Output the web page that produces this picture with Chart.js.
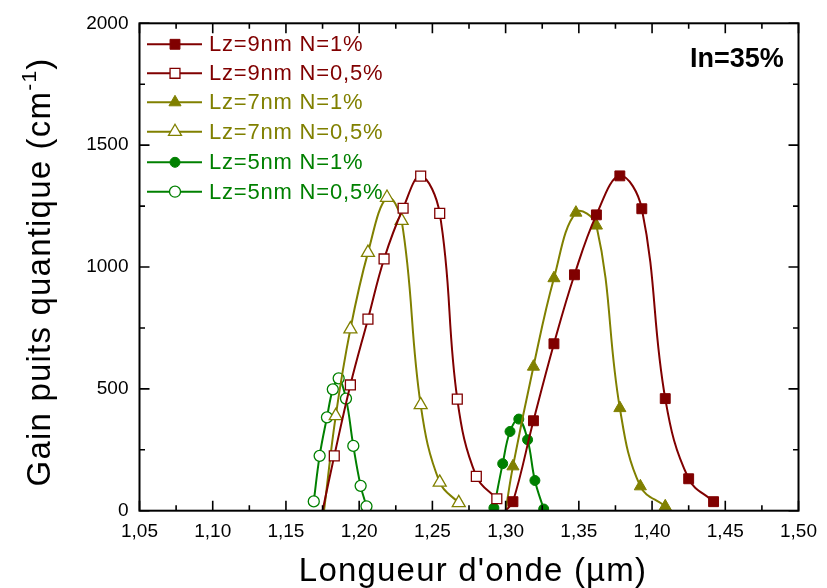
<!DOCTYPE html>
<html lang="fr">
<head>
<meta charset="UTF-8">
<title>Gain puits quantique</title>
<style>
  html, body { margin: 0; padding: 0; background: #fff; }
</style>
</head>
<body>
<canvas id="gainChart" width="827" height="588"></canvas>
<script src="https://cdn.jsdelivr.net/npm/chart.js@4.4.1/dist/chart.umd.min.js"></script>
<script>
// wavelength (um) / gain (cm-1); y=0 entries are where the curve leaves the axis
const lz9n1X = [1.300, 1.305, 1.319, 1.333, 1.347, 1.362, 1.378, 1.393, 1.409, 1.425, 1.442];
const lz9n1Y = [0, 37, 369, 685, 968, 1214, 1374, 1239, 460, 131, 37];

const lz9n05X = [1.175, 1.183, 1.194, 1.206, 1.217, 1.230, 1.242, 1.255, 1.267, 1.280, 1.294];
const lz9n05Y = [0, 225, 516, 786, 1033, 1241, 1373, 1220, 458, 141, 49];

const lz7n1X = [1.300, 1.305, 1.319, 1.333, 1.348, 1.362, 1.378, 1.392, 1.409];
const lz7n1Y = [0, 182, 591, 954, 1223, 1170, 421, 100, 18];

const lz7n05X = [1.176, 1.184, 1.194, 1.206, 1.219, 1.229, 1.242, 1.255, 1.268];
const lz7n05Y = [0, 389, 745, 1059, 1285, 1190, 434, 116, 32];

const lz5n1X = [1.292, 1.298, 1.303, 1.309, 1.315, 1.320, 1.326];
const lz5n1Y = [11, 193, 325, 376, 291, 124, 7];

const lz5n05X = [1.169, 1.173, 1.178, 1.182, 1.186, 1.191, 1.196, 1.201, 1.205];
const lz5n05Y = [38, 225, 383, 498, 543, 460, 266, 102, 18];

const seriesLabels = ['Lz=9nm N=1%', 'Lz=9nm N=0,5%', 'Lz=7nm N=1%', 'Lz=7nm N=0,5%', 'Lz=5nm N=1%', 'Lz=5nm N=0,5%'];

const RED = '#800000', OLIVE = '#808000', GREEN = '#008000';
const FONT = '"Liberation Sans", Arial, sans-serif';

function makeSet(label, xs, ys, color, style, filled, radius) {
  return {
    label: label,
    data: xs.map((v, i) => ({ x: v, y: ys[i] })),
    borderColor: color,
    backgroundColor: filled ? color : '#fff',
    pointBackgroundColor: filled ? color : '#fff',
    pointBorderColor: color,
    pointBorderWidth: filled ? 1 : 1.3,
    pointStyle: style,
    pointRadius: (c) => (c.raw && c.raw.y === 0) ? 0 : radius,
    borderWidth: 2,
    tension: 0.4,
    fill: false
  };
}

const sets = [
  makeSet(seriesLabels[0], lz9n1X, lz9n1Y, RED, 'rect', true, 7),
  makeSet(seriesLabels[1], lz9n05X, lz9n05Y, RED, 'rect', false, 7),
  makeSet(seriesLabels[2], lz7n1X, lz7n1Y, OLIVE, 'triangle', true, 7),
  makeSet(seriesLabels[3], lz7n05X, lz7n05Y, OLIVE, 'triangle', false, 7.5),
  makeSet(seriesLabels[4], lz5n1X, lz5n1Y, GREEN, 'circle', true, 5),
  makeSet(seriesLabels[5], lz5n05X, lz5n05Y, GREEN, 'circle', false, 5.5)
];

// frame with inward ticks on all four sides, titles, legend and the In=35% note
const decorations = {
  id: 'decorations',
  afterDraw(chart) {
    const { ctx, chartArea: a, scales: { x, y } } = chart;
    ctx.save();
    ctx.strokeStyle = '#000';
    ctx.lineWidth = 2;
    ctx.strokeRect(a.left, a.top, a.right - a.left, a.bottom - a.top);

    ctx.lineWidth = 1.6;
    ctx.beginPath();
    for (let i = 0; i <= 18; i++) {
      const px = x.getPixelForValue(1.05 + i * 0.025);
      const len = i % 2 === 0 ? 10 : 5.5;
      ctx.moveTo(px, a.bottom); ctx.lineTo(px, a.bottom - len);
      ctx.moveTo(px, a.top); ctx.lineTo(px, a.top + len);
    }
    for (let i = 0; i <= 8; i++) {
      const py = y.getPixelForValue(i * 250);
      const len = i % 2 === 0 ? 10 : 5.5;
      ctx.moveTo(a.left, py); ctx.lineTo(a.left + len, py);
      ctx.moveTo(a.right, py); ctx.lineTo(a.right - len, py);
    }
    ctx.stroke();

    // axis titles
    ctx.fillStyle = '#000';
    ctx.textBaseline = 'alphabetic';
    ctx.letterSpacing = '1.2px';
    ctx.font = '33px ' + FONT;
    ctx.textAlign = 'center';
    ctx.fillText("Longueur d'onde (\u00b5m)", 473, 581);

    const main = 'Gain puits quantique (cm';
    ctx.font = '33px ' + FONT;
    const w1 = ctx.measureText(main).width;
    ctx.font = '21px ' + FONT;
    const w2 = ctx.measureText('-1').width;
    ctx.font = '33px ' + FONT;
    const w3 = ctx.measureText(')').width;
    const total = w1 + w2 + w3;
    ctx.translate(50, 272);
    ctx.rotate(-Math.PI / 2);
    ctx.textAlign = 'left';
    let cx = -total / 2;
    ctx.fillText(main, cx, 0);
    cx += w1;
    ctx.font = '21px ' + FONT;
    ctx.fillText('-1', cx, -14);
    cx += w2;
    ctx.font = '33px ' + FONT;
    ctx.fillText(')', cx, 0);
    ctx.setTransform(1, 0, 0, 1, 0, 0);

    // note
    ctx.letterSpacing = '0px';
    ctx.font = 'bold 27px ' + FONT;
    ctx.textAlign = 'left';
    ctx.fillText('In=35%', 690, 66.5);

    // legend
    const rowY = [44.3, 73.3, 102.3, 131.7, 162.3, 191.7];
    ctx.letterSpacing = '0.8px';
    ctx.font = '22px ' + FONT;
    ctx.textBaseline = 'middle';
    sets.forEach((ds, i) => {
      const yy = rowY[i];
      ctx.strokeStyle = ds.borderColor;
      ctx.lineWidth = 2;
      ctx.beginPath();
      ctx.moveTo(147, yy); ctx.lineTo(202, yy);
      ctx.stroke();
      ctx.fillStyle = ds.pointBackgroundColor;
      ctx.strokeStyle = ds.pointBorderColor;
      ctx.lineWidth = ds.pointBorderWidth;
      const r = ds.pointRadius({ raw: { y: 1 } });
      Chart.helpers.drawPoint(ctx, { pointStyle: ds.pointStyle, radius: r, rotation: 0, borderWidth: ds.pointBorderWidth }, 175, yy);
      ctx.fillStyle = ds.borderColor;
      ctx.fillText(ds.label, 209, yy + 1);
    });
    ctx.restore();
  }
};

new Chart(document.getElementById('gainChart'), {
  type: 'line',
  data: { datasets: sets },
  options: {
    responsive: false,
    animation: false,
    layout: { padding: { left: 0, right: 19.3, top: 23.3, bottom: 0 } },
    plugins: { legend: { display: false }, tooltip: { enabled: false } },
    scales: {
      x: {
        type: 'linear',
        min: 1.05,
        max: 1.5,
        grid: { display: false, drawTicks: false },
        border: { display: false },
        ticks: {
          stepSize: 0.05,
          padding: 10,
          color: '#000',
          font: { family: FONT, size: 19 },
          callback: (v) => v.toFixed(2).replace('.', ',')
        },
        afterFit: (s) => { s.height = 77.3; }
      },
      y: {
        min: 0,
        max: 2000,
        grid: { display: false, drawTicks: false },
        border: { display: false },
        ticks: {
          stepSize: 500,
          padding: 11,
          color: '#000',
          font: { family: FONT, size: 19 },
          callback: (v) => String(v)
        },
        afterFit: (s) => { s.width = 139.5; }
      }
    }
  },
  plugins: [decorations]
});
</script>
</body>
</html>
